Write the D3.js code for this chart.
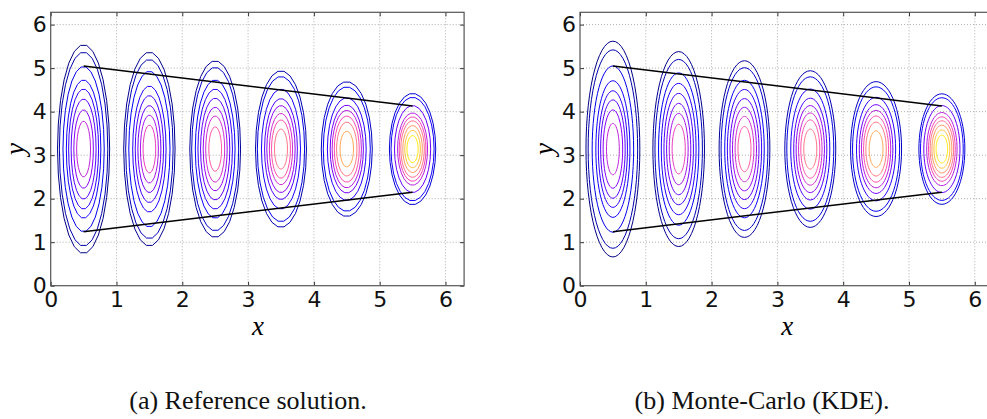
<!DOCTYPE html>
<html><head><meta charset="utf-8">
<script src="https://cdn.jsdelivr.net/npm/d3@7"></script>
<style>body{margin:0;background:#fff}svg{display:block}</style>
</head><body>
<svg id="c" width="987" height="419"></svg>
<script>
// ---------- data ----------
const xTicks = [0,1,2,3,4,5,6];
const yTicks = [0,1,2,3,4,5,6];
const blobX = [0.5,1.5,2.5,3.5,4.5,5.5];
const blobY = [3.14,3.14,3.14,3.14,3.14,3.14];
// contour half-heights (y units), outer -> inner
const refHalfHeights = [
  [2.40,2.23,1.90,1.59,1.38,1.15,0.90,0.64],
  [2.23,2.06,1.79,1.45,1.23,1.00,0.78,0.55],
  [2.03,1.88,1.59,1.38,1.17,0.96,0.76,0.51],
  [1.80,1.67,1.38,1.16,1.00,0.82,0.67,0.46],
  [1.55,1.43,1.18,1.01,0.89,0.76,0.62,0.41],
  [1.28,1.19,1.00,0.83,0.74,0.65,0.54,0.43,0.31]
];
const kdeHalfHeights = [
  [2.48,2.28,1.91,1.57,1.34,1.13,0.90,0.59],
  [2.24,2.06,1.75,1.51,1.28,1.05,0.82,0.57],
  [2.03,1.87,1.58,1.37,1.16,0.96,0.75,0.52],
  [1.80,1.66,1.38,1.17,1.00,0.83,0.67,0.46],
  [1.55,1.43,1.19,1.02,0.89,0.76,0.62,0.42],
  [1.27,1.18,1.00,0.84,0.74,0.65,0.55,0.44,0.32]
];
// half-width / half-height ratio per blob
const widthRatio = [0.165,0.175,0.19,0.215,0.25,0.275];
// colormap position of each contour
const levelTone = [
  [0.13,0.17,0.23,0.27,0.31,0.36,0.42,0.49],
  [0.14,0.18,0.25,0.29,0.34,0.39,0.46,0.54],
  [0.15,0.20,0.26,0.31,0.37,0.44,0.51,0.59],
  [0.17,0.22,0.28,0.35,0.43,0.51,0.58,0.65],
  [0.19,0.24,0.30,0.39,0.48,0.57,0.66,0.75],
  [0.21,0.27,0.38,0.48,0.56,0.64,0.72,0.80,0.88]
];
const upperLine = [[0.5,5.05],[5.5,4.13]];
const lowerLine = [[0.5,1.24],[5.5,2.15]];
const captions = ["(a) Reference solution.","(b) Monte-Carlo (KDE)."];

// ---------- drawing ----------
const svg = d3.select("#c");
const W = 413.4, H = 273.4, TOP = 12.3;
const panels = [
  {left:50.7, heights:refHalfHeights, n:26, cap:captions[0], capX:248},
  {left:580, heights:kdeHalfHeights, n:60, cap:captions[1], capX:762}
];
function clamp(v){return Math.max(0,Math.min(1,v));}
function gnuplot2(x){
  const r = clamp(x/0.32-0.78125), g = clamp(2*x-0.84);
  let b; if(x<0.25) b=4*x; else if(x<0.42) b=1; else if(x<0.92) b=-2*x+1.84; else b=x/0.08-11.5;
  b = clamp(b);
  return d3.rgb(r*255,g*255,b*255).formatHex();
}

panels.forEach((p,pi)=>{
  const x = d3.scaleLinear().domain([0,2*Math.PI]).range([0,W]);
  const y = d3.scaleLinear().domain([0,2*Math.PI]).range([H,0]);
  const g = svg.append("g").attr("transform",`translate(${p.left},${TOP})`);
  const cid = "clip"+pi;
  g.append("clipPath").attr("id",cid).append("rect").attr("width",W).attr("height",H);

  // grid
  const grid = g.append("g").attr("stroke","#9a9a9a").attr("stroke-width",0.8).attr("stroke-dasharray","1,2");
  grid.selectAll(".gx").data(xTicks.filter(t=>t>0)).join("line")
    .attr("x1",d=>x(d)).attr("x2",d=>x(d)).attr("y1",0).attr("y2",H);
  grid.selectAll(".gy").data(yTicks.filter(t=>t>0)).join("line")
    .attr("y1",d=>y(d)).attr("y2",d=>y(d)).attr("x1",0).attr("x2",W);

  const body = g.append("g").attr("clip-path",`url(#${cid})`);
  const line = d3.line().x(d=>x(d[0])).y(d=>y(d[1])).curve(d3.curveLinearClosed);
  blobX.forEach((cx,bi)=>{
    const cy = blobY[bi];
    p.heights[bi].forEach((h,k)=>{
      const a = h*widthRatio[bi];
      const pts = d3.range(p.n).map(i=>{const t=2*Math.PI*i/p.n; return [cx+a*Math.cos(t), cy+h*Math.sin(t)];});
      body.append("path").attr("d",line(pts)).attr("fill","none")
        .attr("stroke",gnuplot2(levelTone[bi][k])).attr("stroke-width",1.0);
    });
  });
  const seg = d3.line().x(d=>x(d[0])).y(d=>y(d[1]));
  [upperLine,lowerLine].forEach(l=>{
    body.append("path").attr("d",seg(l)).attr("fill","none").attr("stroke","#000").attr("stroke-width",1.5);
  });

  // axes
  const ax = g.append("g").attr("transform",`translate(0,${H})`)
    .call(d3.axisBottom(x).tickValues(xTicks).tickSize(-4).tickPadding(6).tickFormat(d3.format("d")));
  const ay = g.append("g")
    .call(d3.axisLeft(y).tickValues(yTicks).tickSize(-4).tickPadding(4).tickFormat(d3.format("d")));
  const axT = g.append("g").call(d3.axisTop(x).tickValues(xTicks).tickSize(-4).tickFormat(""));
  const ayR = g.append("g").attr("transform",`translate(${W},0)`).call(d3.axisRight(y).tickValues(yTicks).tickSize(-4).tickFormat(""));
  [ax,ay,axT,ayR].forEach(a=>{
    a.attr("font-size",22).attr("font-family","DejaVu Sans");
    a.select(".domain").remove();
    a.selectAll("line").attr("stroke","#333");
    a.selectAll("text").attr("fill","#111").style("font-size","22px");
  });
  g.append("rect").attr("width",W).attr("height",H).attr("fill","none").attr("stroke","#555").attr("stroke-width",1.2);

  // axis labels
  g.append("text").attr("x",x(3.15)).attr("y",H+49).attr("text-anchor","middle")
    .attr("font-family","Liberation Serif").attr("font-style","italic").attr("font-size",27).text("x");
  g.append("text").attr("transform",`translate(${-27},${y(3.14)}) rotate(-90)`).attr("text-anchor","middle")
    .attr("font-family","Liberation Serif").attr("font-style","italic").attr("font-size",27).text("y");

  svg.append("text").attr("x",p.capX).attr("y",409).attr("text-anchor","middle")
    .attr("font-family","Liberation Serif").attr("font-size",26).attr("fill","#111").text(p.cap);
});
</script>
</body></html>
